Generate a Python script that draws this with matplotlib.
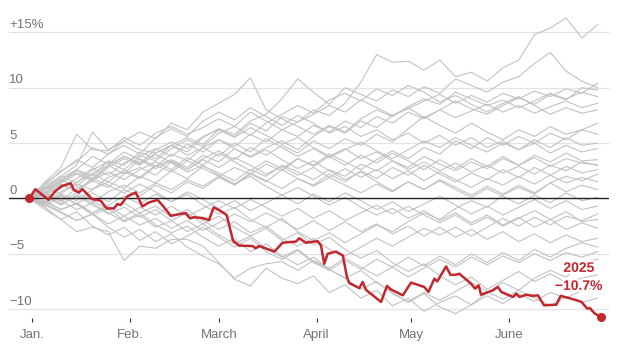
import matplotlib
matplotlib.use("Agg")
import matplotlib.pyplot as plt
import matplotlib.patheffects as pe

# x values are days since Jan. 1
days = [-1, 4, 9, 14, 19, 24, 29, 34, 39, 44, 49, 54, 59, 64, 69, 74, 79, 84, 89,
        94, 99, 104, 109, 114, 119, 124, 129, 134, 139, 144, 149, 154, 159, 164,
        169, 174, 179]

# past years (percent change since start of year)
gray_01 = [0, 0.8, 1.5, 2.6, 2.0, 3.4, 3.0, 4.2, 3.6, 4.8, 5.5, 4.9, 6.2, 5.6, 6.8, 6.1, 7.4, 6.9, 8.0, 7.5, 8.6, 10.5, 13.0, 12.3, 12.4, 11.6, 12.5, 11.0, 11.4, 10.6, 11.8, 12.5, 14.8, 15.4, 16.3, 14.5, 15.7]
gray_02 = [0, 1.2, 2.5, 3.3, 4.6, 4.0, 5.2, 6.0, 5.4, 6.8, 6.2, 7.8, 8.6, 9.4, 10.9, 8.0, 7.2, 6.5, 5.8, 6.6, 6.0, 7.2, 8.0, 7.4, 8.3, 9.0, 8.5, 9.6, 9.0, 8.4, 8.9, 8.2, 8.8, 9.5, 9.0, 9.6, 9.2]
gray_03 = [0, 0.5, 1.4, 2.2, 1.6, 2.8, 3.6, 3.0, 4.1, 4.8, 4.2, 5.5, 6.3, 5.8, 7.0, 7.6, 9.0, 10.8, 9.6, 8.5, 10.0, 9.4, 8.8, 9.8, 9.2, 10.1, 9.5, 10.8, 10.2, 9.6, 10.5, 11.0, 12.2, 13.2, 11.5, 10.6, 10.0]
gray_04 = [0, 1.5, 2.8, 5.8, 4.4, 4.3, 5.5, 4.8, 5.9, 6.5, 5.8, 6.4, 7.2, 6.5, 7.8, 7.0, 6.2, 6.9, 7.6, 8.4, 7.8, 8.9, 8.2, 7.5, 8.1, 8.8, 9.4, 8.6, 9.3, 8.7, 9.5, 9.0, 9.7, 9.2, 9.9, 9.5, 10.4]
gray_05 = [0, -0.4, 0.6, 1.3, 0.8, 1.9, 2.4, 1.8, 2.9, 3.5, 2.8, 3.9, 3.3, 4.5, 3.8, 4.6, 5.2, 4.4, 5.6, 6.5, 5.9, 7.0, 6.4, 7.5, 8.2, 7.3, 8.0, 8.8, 8.1, 7.6, 8.4, 9.1, 8.5, 9.4, 8.9, 10.0, 9.8]
gray_06 = [0, 0.9, 2.0, 3.0, 6.0, 4.4, 5.2, 4.4, 4.1, 4.8, 3.9, 4.6, 5.3, 4.7, 5.8, 5.1, 6.2, 5.6, 6.6, 6.0, 7.0, 6.4, 7.4, 6.8, 7.8, 7.2, 8.0, 7.3, 7.9, 8.5, 7.8, 8.4, 7.7, 8.3, 8.8, 8.2, 8.6]
gray_07 = [0, 0.3, 1.0, 1.8, 2.7, 2.1, 3.2, 3.9, 3.4, 4.5, 5.3, 4.7, 5.9, 6.5, 5.7, 6.8, 7.6, 8.4, 7.7, 8.9, 9.5, 8.8, 9.9, 9.3, 10.2, 9.6, 8.7, 9.3, 8.5, 7.8, 8.6, 9.2, 8.4, 7.6, 8.2, 7.7, 8.0]
gray_08 = [0, 0.6, -0.2, 0.9, 1.6, 1.0, 2.2, 2.8, 2.1, 3.3, 2.6, 3.6, 4.3, 3.5, 4.6, 3.9, 4.8, 4.1, 5.2, 4.5, 5.4, 4.8, 5.8, 5.1, 6.3, 7.4, 6.6, 5.9, 6.8, 6.0, 5.3, 6.2, 5.6, 6.5, 5.8, 6.2, 6.8]
gray_09 = [0, 1.0, 0.4, 1.5, 2.2, 1.5, 2.6, 1.9, 3.0, 2.4, 3.4, 2.7, 2.0, 2.8, 2.2, 3.1, 2.5, 3.6, 3.0, 4.0, 3.3, 2.6, 3.5, 4.3, 3.6, 4.6, 4.0, 5.2, 4.5, 5.5, 4.8, 5.6, 5.0, 5.9, 5.3, 6.2, 5.8]
gray_10 = [0, 0.5, 1.7, 1.1, 2.3, 3.0, 2.2, 3.6, 2.9, 4.0, 3.4, 4.6, 3.8, 5.0, 4.2, 5.4, 4.6, 3.8, 4.5, 3.7, 4.4, 5.1, 4.3, 3.6, 4.4, 5.2, 4.6, 5.5, 4.8, 4.2, 5.0, 4.4, 5.3, 4.6, 5.5, 4.8, 5.0]
gray_11 = [0, 1.4, 2.4, 3.5, 2.8, 4.0, 4.8, 4.0, 5.5, 6.3, 5.6, 7.0, 7.8, 7.1, 8.2, 7.4, 6.6, 7.5, 6.8, 5.9, 6.5, 5.6, 6.2, 5.3, 5.9, 5.0, 5.7, 4.8, 5.5, 4.6, 5.2, 4.4, 5.0, 4.1, 4.8, 4.2, 4.5]
gray_12 = [0, -0.5, 0.4, -0.2, 0.8, 1.5, 0.9, 2.0, 1.4, 2.5, 1.8, 2.9, 2.3, 1.6, 2.6, 2.0, 3.0, 2.4, 1.7, 2.6, 2.0, 3.1, 2.5, 3.4, 2.8, 3.8, 3.1, 2.5, 3.3, 2.7, 3.6, 3.0, 3.9, 3.3, 4.1, 3.4, 3.5]
gray_13 = [0, 0.8, 1.6, 2.3, 1.7, 3.0, 3.8, 3.2, 4.4, 5.1, 4.5, 5.6, 6.2, 5.5, 6.4, 5.7, 4.9, 5.5, 4.6, 3.8, 4.5, 3.6, 4.2, 3.4, 2.6, 3.3, 2.5, 3.2, 2.4, 3.0, 2.3, 2.9, 2.2, 3.0, 2.5, 3.3, 3.0]
gray_14 = [0, 0.2, -0.6, 0.3, -0.4, 0.6, 1.2, 0.5, 1.4, 0.8, 1.7, 1.1, 2.0, 1.3, 2.3, 1.6, 0.9, 1.8, 1.2, 2.2, 1.5, 2.5, 1.8, 2.8, 2.1, 3.0, 2.2, 1.5, 2.3, 1.7, 2.6, 1.9, 2.8, 2.1, 2.9, 2.3, 2.6]
gray_15 = [0, 0.6, 1.3, 0.7, 1.8, 1.2, 0.5, 1.3, 0.6, -0.3, 0.4, -0.6, -1.4, -0.8, -1.9, -2.6, -1.8, -3.0, -3.8, -3.1, -4.0, -3.2, -2.4, -3.0, -2.1, -1.3, -1.9, -0.9, -0.2, -0.8, 0.3, 1.0, 0.4, 1.4, 2.0, 1.6, 2.2]
gray_16 = [0, 0.9, 1.8, 2.6, 3.8, 3.1, 4.2, 3.5, 2.7, 3.4, 2.6, 3.5, 2.8, 3.7, 3.0, 2.2, 2.9, 2.1, 2.8, 1.9, 2.7, 1.9, 2.6, 1.8, 2.5, 1.6, 2.4, 1.7, 1.0, 1.8, 1.2, 2.0, 1.3, 2.1, 1.4, 1.9, 1.5]
gray_17 = [0, -0.7, 0.2, -0.5, 0.5, -0.3, 0.8, 0.2, 1.2, 0.5, 1.5, 0.9, 1.9, 1.2, 2.2, 1.5, 2.6, 1.8, 1.1, 1.9, 1.2, 0.5, 1.3, 0.6, 1.5, 0.8, 1.7, 1.0, 0.3, 1.1, 0.4, 1.2, 0.5, 1.4, 0.6, 1.2, 0.8]
gray_18 = [0, 1.1, 2.0, 1.4, 2.6, 3.3, 2.6, 3.8, 4.5, 3.8, 4.9, 4.2, 5.3, 4.5, 3.7, 4.4, 3.5, 2.7, 3.4, 2.5, 1.7, 2.4, 1.5, 0.7, 1.5, 0.8, 1.6, 0.8, 0.1, 0.9, 0.2, -0.5, 0.3, -0.4, 0.5, -0.2, 0.1]
gray_19 = [0, -0.3, -1.0, -0.4, -1.3, -0.6, 0.2, -0.5, 0.4, -0.3, 0.6, -0.1, -0.9, -0.2, -1.1, -0.4, 0.3, -0.5, 0.4, -0.3, 0.5, -0.2, -1.0, -0.3, -1.2, -0.5, 0.2, -0.6, -1.4, -0.7, -1.5, -0.8, -0.1, -0.9, -0.2, -1.0, -0.7]
gray_20 = [0, 0.4, -0.3, 0.5, -0.2, -1.0, -0.4, -1.3, -0.7, -1.7, -1.0, -2.0, -2.8, -2.1, -3.1, -2.5, -3.6, -4.3, -3.6, -4.6, -5.2, -4.4, -3.6, -4.3, -3.5, -2.7, -3.3, -2.6, -3.4, -2.6, -1.8, -2.5, -1.7, -2.4, -1.6, -2.0, -1.4]
gray_21 = [0, -0.6, -1.3, -2.0, -1.4, -2.3, -1.6, -0.8, -1.5, -0.7, -1.6, -0.9, -0.2, -0.9, -0.1, -0.8, -1.6, -0.9, -1.8, -1.1, -2.0, -1.3, -0.6, -1.4, -0.7, -1.5, -2.2, -1.5, -2.4, -1.7, -2.5, -1.8, -1.1, -1.9, -1.2, -2.1, -1.9]
gray_22 = [0, 0.8, 1.6, 2.5, 1.8, 3.0, 3.8, 3.1, 4.0, 3.2, 2.4, 3.0, 2.1, 1.3, 2.0, 1.1, 0.3, 1.0, 0.2, -0.6, 0.1, -0.8, -1.5, -0.9, -1.8, -1.1, -2.0, -1.3, -2.2, -1.5, -2.4, -1.7, -2.6, -1.9, -2.8, -2.2, -2.7]
gray_23 = [0, -0.4, 0.3, -0.5, -1.3, -0.7, -1.6, -2.4, -1.8, -2.7, -2.0, -2.9, -2.2, -1.4, -2.1, -1.3, -2.0, -2.8, -2.0, -2.9, -2.1, -3.0, -2.3, -3.2, -2.5, -3.4, -2.6, -3.5, -2.8, -3.7, -3.0, -3.9, -3.2, -4.0, -3.3, -3.9, -3.6]
gray_24 = [0, -0.8, -1.9, -1.2, -2.5, -3.3, -2.6, -3.8, -3.0, -4.1, -3.4, -2.6, -3.5, -4.4, -3.6, -4.8, -5.5, -4.7, -5.8, -6.5, -5.6, -6.4, -5.5, -6.2, -5.3, -6.1, -5.2, -6.0, -5.0, -5.8, -4.9, -5.6, -4.6, -5.3, -4.5, -4.0, -4.4]
gray_25 = [0, -0.5, -1.2, -2.0, -1.4, -2.6, -3.5, -2.8, -3.9, -3.2, -4.4, -5.2, -5.9, -7.2, -6.3, -5.9, -5.7, -6.5, -5.6, -6.3, -5.4, -6.2, -7.0, -6.2, -7.1, -6.3, -5.5, -6.2, -5.3, -6.0, -5.2, -5.8, -5.0, -5.6, -4.9, -5.3, -4.8]
gray_26 = [0, -1.0, -1.9, -3.0, -2.6, -3.0, -5.6, -4.3, -4.5, -3.7, -3.7, -4.3, -5.8, -7.3, -7.9, -6.3, -7.2, -7.7, -7.0, -8.5, -7.8, -9.0, -8.3, -9.7, -9.0, -10.2, -9.4, -8.8, -9.6, -8.5, -7.6, -8.3, -7.2, -6.5, -7.1, -5.8, -5.5]
gray_27 = [0, 0.3, -0.5, 0.2, -0.6, -1.4, -0.8, -1.7, -1.0, -2.0, -1.3, -2.3, -1.6, -2.6, -3.4, -2.7, -3.8, -3.1, -4.2, -3.5, -4.6, -5.4, -4.7, -5.8, -6.6, -5.9, -7.0, -7.8, -7.1, -8.2, -7.4, -6.6, -7.5, -6.8, -7.6, -7.2, -6.9]
gray_28 = [0, -0.2, -1.0, -0.5, -1.5, -0.9, -2.0, -1.3, -2.4, -3.1, -2.5, -3.5, -4.3, -3.6, -4.8, -4.1, -5.2, -6.0, -5.3, -6.4, -7.2, -6.5, -7.6, -8.5, -9.4, -8.6, -9.8, -10.4, -9.6, -8.8, -9.5, -8.6, -9.3, -8.5, -9.0, -8.3, -8.0]
gray_29 = [0, 0.5, -0.2, -1.0, -0.4, -1.3, -2.1, -1.5, -2.6, -2.0, -3.0, -2.3, -3.3, -4.1, -3.4, -4.5, -5.3, -4.6, -5.7, -6.4, -7.2, -8.2, -7.5, -8.6, -9.3, -8.5, -9.2, -8.4, -7.6, -8.4, -9.1, -8.3, -9.0, -9.7, -8.9, -9.4, -9.0]
gray_30 = [0, 0.4, 1.2, 0.7, 1.6, 2.4, 1.7, 2.6, 3.3, 2.6, 3.7, 3.0, 4.1, 3.3, 2.5, 3.4, 2.7, 3.6, 2.9, 3.8, 3.0, 3.9, 3.2, 4.1, 3.4, 2.6, 3.5, 2.7, 3.6, 2.9, 3.8, 3.0, 3.7, 2.9, 3.6, 3.2, 3.0]

# 2025
red_days = [-1, 0.9, 5.0, 7.3, 9.4, 12.1, 13.1, 14.7, 15.8, 18.9, 21.6, 23.5, 25.8,
            26.9, 27.9, 30.0, 32.7, 34.8, 36.9, 39.6, 41.1, 43.8, 48.5, 49.9, 51.2,
            53.8, 55.9, 57.4, 59.4, 61.5, 63.5, 65.4, 69.7, 70.7, 71.8, 76.6, 79.2,
            83.4, 84.5, 86.6, 90.3, 91.4, 92.4, 93.5, 96.1, 98.3, 99.6, 100.3, 103.5,
            104.6, 105.6, 110.4, 112.3, 113.4, 117.3, 119.9, 124.1, 125.4, 127.3,
            128.2, 131.0, 132.4, 133.9, 135.2, 138.9, 140.2, 141.3, 142.1, 145.8,
            147.4, 148.5, 152.2, 153.2, 154.3, 156.4, 158.5, 160.1, 162.0, 165.9,
            167.3, 171.7, 173.9, 175.7, 176.5, 178.1, 180.0]
red_vals = [0, 0.84, -0.12, 0.68, 1.13, 1.37, 0.77, 0.54, 0.84, -0.06, -0.2, -0.9,
            -0.9, -0.5, -0.6, 0.18, 0.54, -0.72, -0.36, -0.13, -0.6, -1.56, -1.32,
            -1.8, -1.7, -1.77, -1.95, -0.81, -1.1, -1.5, -3.8, -4.26, -4.3, -4.5,
            -4.3, -4.8, -4.0, -3.9, -3.6, -4.0, -3.86, -4.26, -5.9, -5.0, -4.8,
            -5.16, -7.1, -7.64, -8.1, -7.55, -8.25, -9.35, -7.9, -8.2, -8.75, -7.6,
            -8.0, -8.45, -7.25, -7.5, -6.14, -6.9, -6.9, -6.8, -7.7, -8.15, -7.85,
            -8.7, -8.3, -8.0, -8.45, -8.9, -8.6, -8.9, -8.7, -8.8, -8.75, -9.65,
            -9.6, -8.8, -9.14, -9.35, -9.95, -9.9, -10.4, -10.7]

grid_vals = [15, 10, 5, -5, -10]
ylabel_vals = [15, 10, 5, 0, -5, -10]
ylabel_text = ["+15%", "10", "5", "0", "\u22125", "\u221210"]
month_days = [0, 31, 59, 90, 120, 151]
month_names = ["Jan.", "Feb.", "March", "April", "May", "June"]

GRAY = "#c2c2c2"
RED = "#c1272d"
TXT = "#737373"

plt.rcParams["font.family"] = ["Liberation Sans", "DejaVu Sans"]

fig = plt.figure(figsize=(6.17, 3.52), dpi=100)
ax = fig.add_axes([9 / 617, 34 / 352, 600 / 617, 298 / 352])
ax.set_xlim(-7.44, 182.6)
ax.set_ylim(-10.8, 16.12)

for g in grid_vals:
    ax.axhline(g, color="#e3e3e3", lw=0.9, zorder=0)

grays = [gray_01, gray_02, gray_03, gray_04, gray_05, gray_06, gray_07, gray_08,
         gray_09, gray_10, gray_11, gray_12, gray_13, gray_14, gray_15, gray_16,
         gray_17, gray_18, gray_19, gray_20, gray_21, gray_22, gray_23, gray_24,
         gray_25, gray_26, gray_27, gray_28, gray_29, gray_30]
for vals in grays:
    ax.plot(days, vals, color=GRAY, lw=0.8, zorder=1, clip_on=False)

ax.axhline(0, color="#222222", lw=1.0, zorder=2)

ax.plot(red_days, red_vals, color=RED, lw=1.8, zorder=3, clip_on=False,
        solid_joinstyle="round")
ax.plot([red_days[0], red_days[-1]], [red_vals[0], red_vals[-1]], "o",
        color=RED, ms=5.5, zorder=4, clip_on=False)

halo = [pe.withStroke(linewidth=3, foreground="white")]
ax.annotate("2025", xy=(red_days[-1], red_vals[-1]), xytext=(-22, 49),
            textcoords="offset pixels", ha="center", va="center",
            color=RED, fontsize=10, fontweight="bold", path_effects=halo, zorder=5)
ax.annotate("\u221210.7%", xy=(red_days[-1], red_vals[-1]), xytext=(-22, 31),
            textcoords="offset pixels", ha="center", va="center",
            color=RED, fontsize=10, fontweight="bold", path_effects=halo, zorder=5)

for v, t in zip(ylabel_vals, ylabel_text):
    ax.annotate(t, xy=(0, v), xycoords=("axes fraction", "data"),
                xytext=(0, 4.5), textcoords="offset pixels",
                ha="left", va="baseline", color=TXT, fontsize=9.5)

ax.set_yticks([])
ax.set_xticks(month_days)
ax.set_xticklabels(month_names)
ax.tick_params(axis="x", length=3, width=0.8, color="#333333", pad=5,
               labelsize=9.5, labelcolor=TXT)
for s in ax.spines.values():
    s.set_visible(False)

fig.savefig("out.png", dpi=100)
